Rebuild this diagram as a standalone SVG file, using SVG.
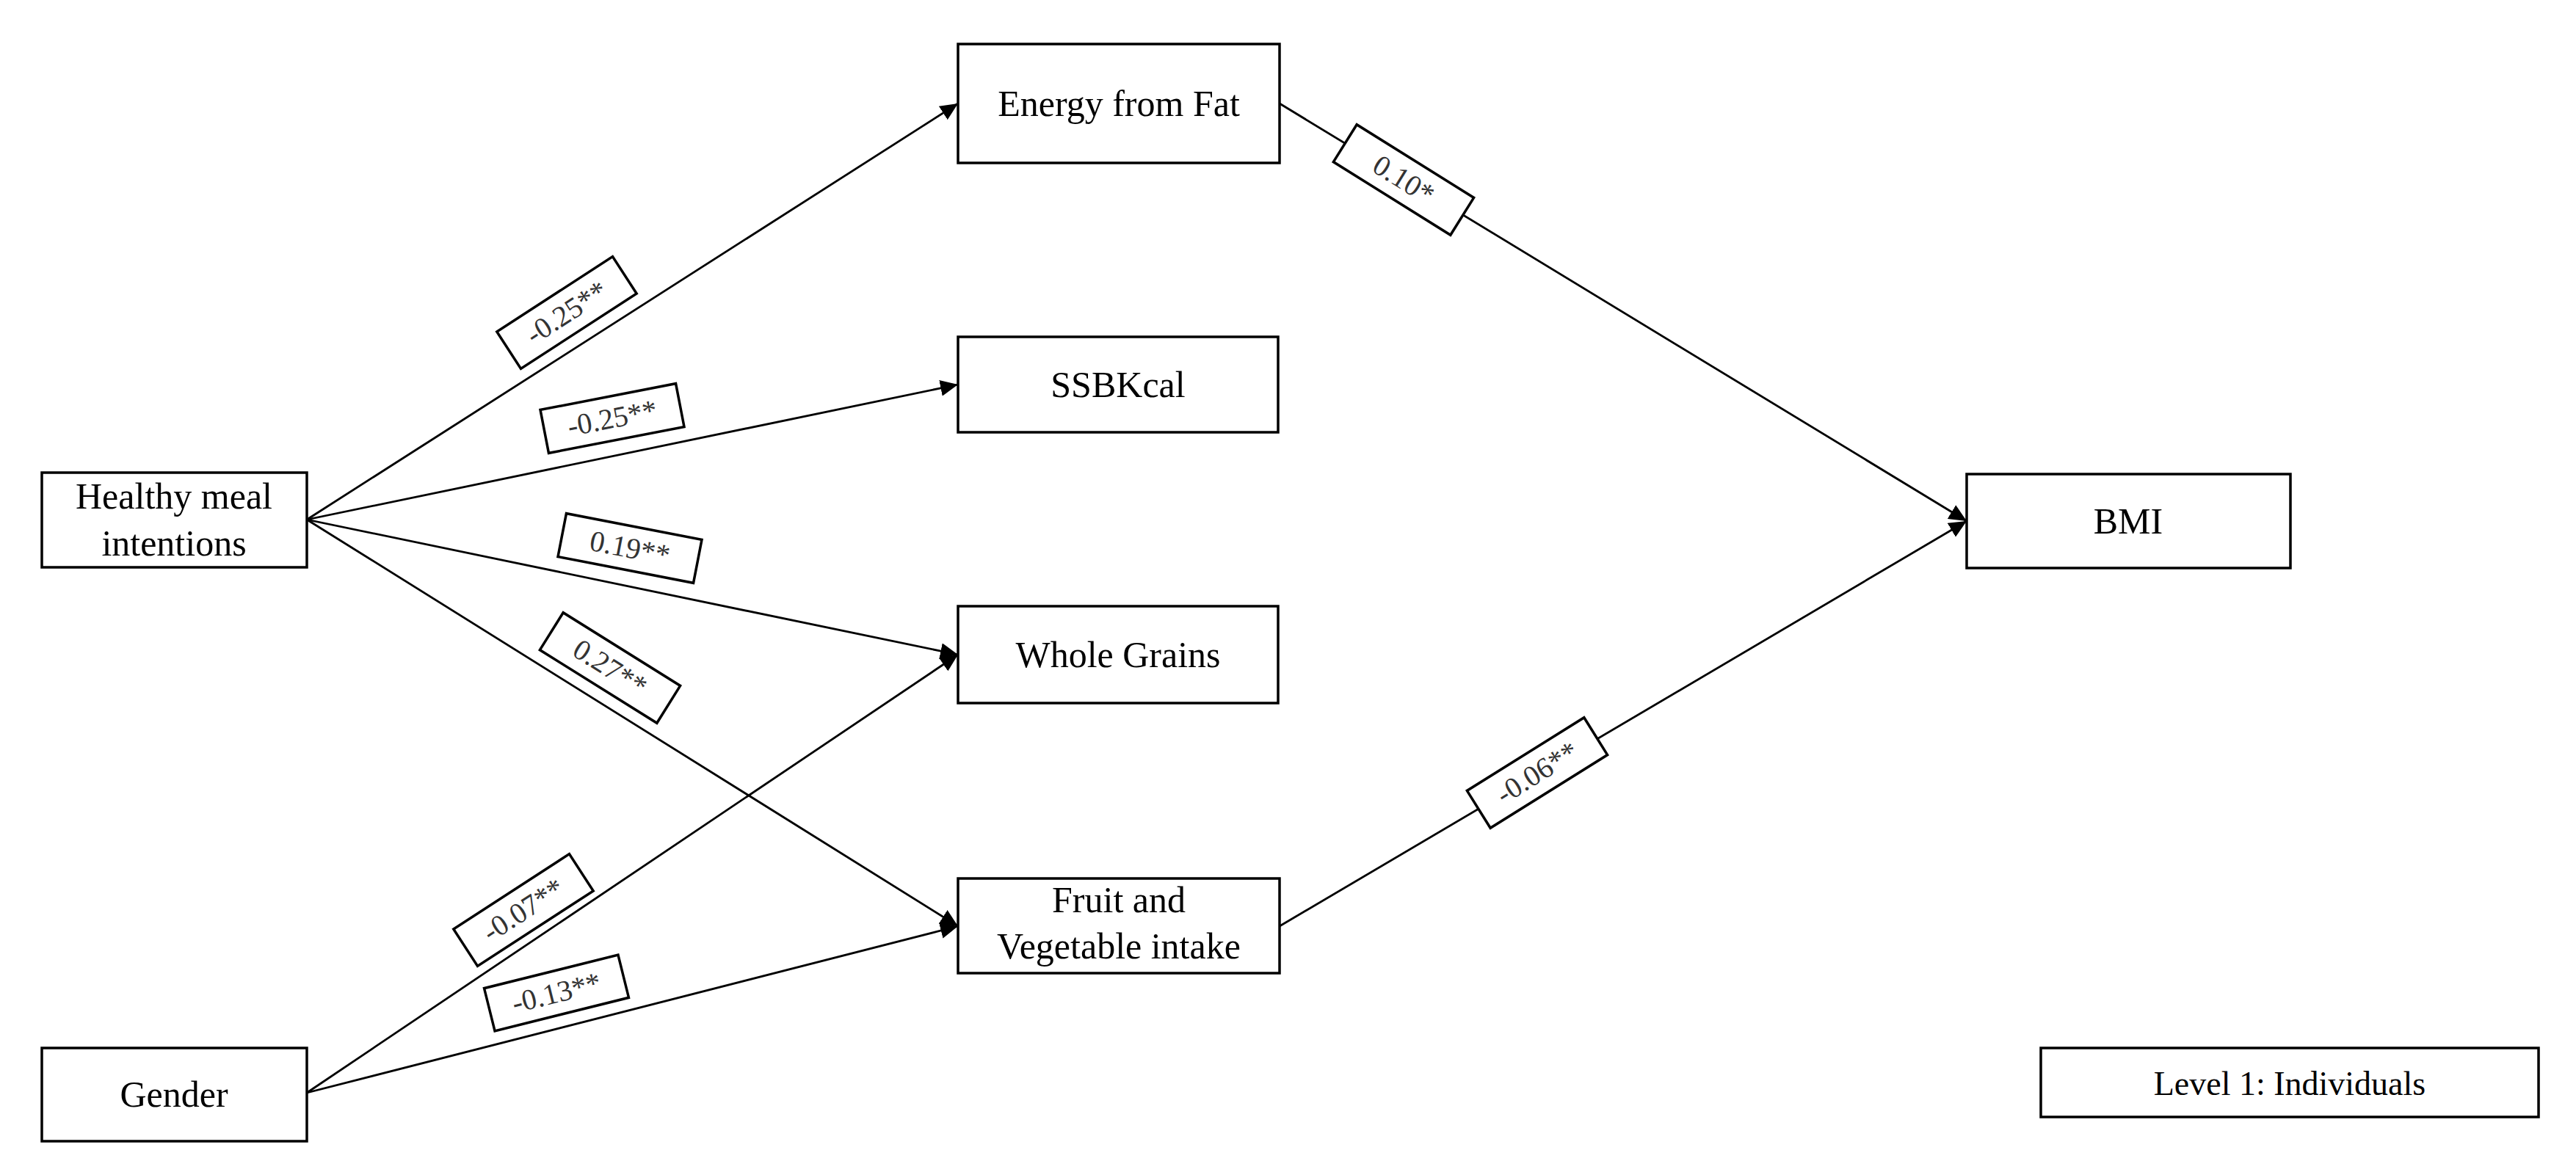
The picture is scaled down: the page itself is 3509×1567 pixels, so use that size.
<svg xmlns="http://www.w3.org/2000/svg" width="3509" height="1567" viewBox="0 0 3509 1567">
<defs>
<style>
.box{fill:#fff;stroke:#000;stroke-width:3.5}
.nt{font-family:"Liberation Serif",serif;font-size:50px;fill:#000;text-anchor:middle}
.edge{stroke:#000;stroke-width:2.8;fill:none}
.lb{fill:#fff;stroke:#000;stroke-width:3.5}
.lt{font-family:"Liberation Serif",serif;font-size:40px;fill:#333;text-anchor:middle}
</style>
<marker id="ah" markerUnits="userSpaceOnUse" markerWidth="26" markerHeight="22" refX="24" refY="11" orient="auto">
<path d="M0,0 L24,11 L0,22 Z" fill="#000"/>
</marker>
</defs>
<rect width="3509" height="1567" fill="#fff"/>
<g id="connectors">
<line class="edge" x1="418" y1="708" x2="1305" y2="141" marker-end="url(#ah)"/>
<line class="edge" x1="418" y1="708" x2="1305" y2="524" marker-end="url(#ah)"/>
<line class="edge" x1="418" y1="708" x2="1305" y2="892" marker-end="url(#ah)"/>
<line class="edge" x1="418" y1="708" x2="1305" y2="1262" marker-end="url(#ah)"/>
<line class="edge" x1="418" y1="1489" x2="1305" y2="892" marker-end="url(#ah)"/>
<line class="edge" x1="418" y1="1489" x2="1305" y2="1262" marker-end="url(#ah)"/>
<line class="edge" x1="1743" y1="141" x2="2679" y2="710" marker-end="url(#ah)"/>
<line class="edge" x1="1743" y1="1262" x2="2679" y2="710" marker-end="url(#ah)"/>
<g id="label-hmi-fat" transform="translate(772,426) rotate(-33)"><rect class="lb" x="-94" y="-30" width="188" height="60"/><text class="lt" x="0" y="13">-0.25**</text></g>
<g id="label-hmi-ssb" transform="translate(834,570) rotate(-11)"><rect class="lb" x="-94" y="-30" width="188" height="60"/><text class="lt" x="0" y="13">-0.25**</text></g>
<g id="label-hmi-wg" transform="translate(858,747) rotate(11)"><rect class="lb" x="-94" y="-30" width="188" height="60"/><text class="lt" x="0" y="13">0.19**</text></g>
<g id="label-hmi-fv" transform="translate(831,910) rotate(32)"><rect class="lb" x="-94" y="-30" width="188" height="60"/><text class="lt" x="0" y="13">0.27**</text></g>
<g id="label-g-wg" transform="translate(713,1240) rotate(-33)"><rect class="lb" x="-94" y="-30" width="188" height="60"/><text class="lt" x="0" y="13">-0.07**</text></g>
<g id="label-g-fv" transform="translate(758,1353) rotate(-14)"><rect class="lb" x="-94" y="-30" width="188" height="60"/><text class="lt" x="0" y="13">-0.13**</text></g>
<g id="label-fat-bmi" transform="translate(1912,245) rotate(32)"><rect class="lb" x="-94" y="-30" width="188" height="60"/><text class="lt" x="0" y="13">0.10*</text></g>
<g id="label-fv-bmi" transform="translate(2094,1053) rotate(-32)"><rect class="lb" x="-94" y="-30" width="188" height="60"/><text class="lt" x="0" y="13">-0.06**</text></g>
</g>
<g id="healthy-meal"><rect class="box" x="57" y="644" width="361" height="129"/><text class="nt" x="237" y="693">Healthy meal</text><text class="nt" x="237" y="757">intentions</text></g>
<g id="gender"><rect class="box" x="57" y="1428" width="361" height="127"/><text class="nt" x="237" y="1508">Gender</text></g>
<g id="energy-fat"><rect class="box" x="1305" y="60" width="438" height="162"/><text class="nt" x="1524" y="158">Energy from Fat</text></g>
<g id="ssbkcal"><rect class="box" x="1305" y="459" width="436" height="130"/><text class="nt" x="1523" y="541">SSBKcal</text></g>
<g id="whole-grains"><rect class="box" x="1305" y="826" width="436" height="132"/><text class="nt" x="1523" y="909">Whole Grains</text></g>
<g id="fruit-veg"><rect class="box" x="1305" y="1197" width="438" height="129"/><text class="nt" x="1524" y="1243">Fruit and</text><text class="nt" x="1524" y="1306">Vegetable intake</text></g>
<g id="bmi"><rect class="box" x="2679" y="646" width="441" height="128"/><text class="nt" x="2899" y="727">BMI</text></g>
<g id="level1"><rect class="box" x="2780" y="1428" width="678" height="94"/><text class="nt" x="3119" y="1492" style="font-size:46px">Level 1: Individuals</text></g>
</svg>
